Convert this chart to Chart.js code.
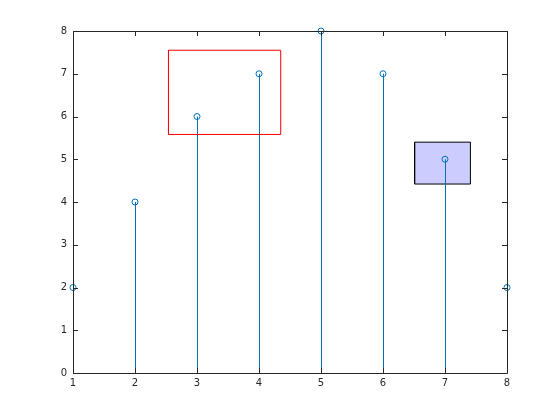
<!DOCTYPE html>
<html>
<head>
<meta charset="UTF-8">
<script src="https://cdn.jsdelivr.net/npm/chart.js"></script>
<style>
  body { margin: 0; background: #fff; }
  #wrap { width: 560px; height: 420px; }
</style>
</head>
<body>
<div id="wrap"><canvas id="c"></canvas></div>
<script>
const xs = [1, 2, 3, 4, 5, 6, 7, 8];
const ys = [2, 4, 6, 7, 8, 7, 5, 2];
const xTicks = [1, 2, 3, 4, 5, 6, 7, 8];
const yTicks = [0, 1, 2, 3, 4, 5, 6, 7, 8];
// outline rectangle (red) and filled rectangle (blue), in data units
const redRectX = [2.54, 4.35, 4.35, 2.54, 2.54];
const redRectY = [5.58, 5.58, 7.55, 7.55, 5.58];
const blueRectX = [6.51, 7.41, 7.41, 6.51, 6.51];
const blueRectY = [4.42, 4.42, 5.40, 5.40, 4.42];

const stemColor = '#0072BD';
const axisColor = '#262626';

const stems = xs.map((x, i) => ({
  type: 'line',
  data: [{x: x, y: 0}, {x: x, y: ys[i]}],
  borderColor: stemColor,
  borderWidth: 1,
  pointRadius: 0,
  fill: false,
  stem: true,
  order: 2
}));

const datasets = [
  {
    type: 'line',
    data: blueRectX.map((x, i) => ({x: x, y: blueRectY[i]})),
    borderColor: '#000',
    borderWidth: 1,
    backgroundColor: '#CCCCFF',
    fill: 'shape',
    pointRadius: 0,
    order: 3
  },
  {
    type: 'line',
    data: redRectX.map((x, i) => ({x: x, y: redRectY[i]})),
    borderColor: '#FF0000',
    borderWidth: 1,
    fill: false,
    pointRadius: 0,
    order: 1
  },
  ...stems,
  {
    type: 'scatter',
    data: xs.map((x, i) => ({x: x, y: ys[i]})),
    borderColor: stemColor,
    backgroundColor: 'rgba(0,0,0,0)',
    borderWidth: 1,
    pointRadius: 3,
    pointStyle: 'circle',
    clip: false,
    order: 0
  }
];

// shift vertical stems half a pixel so they stay crisp
const crispPlugin = {
  id: 'crisp',
  beforeDatasetDraw(chart, args) {
    if (chart.data.datasets[args.index].stem) {
      chart.ctx.save();
      chart.ctx.translate(0.5, 0);
    }
  },
  afterDatasetDraw(chart, args) {
    if (chart.data.datasets[args.index].stem) chart.ctx.restore();
  }
};

// box around the plot with inward ticks on all four sides
const boxPlugin = {
  id: 'box',
  afterDatasetsDraw(chart) {
    const ctx = chart.ctx;
    const a = chart.chartArea;
    const sx = chart.scales.x, sy = chart.scales.y;
    ctx.save();
    ctx.strokeStyle = axisColor;
    ctx.lineWidth = 1;
    ctx.beginPath();
    ctx.rect(Math.round(a.left) + 0.5, Math.round(a.top) + 0.5,
             Math.round(a.right - a.left), Math.round(a.bottom - a.top));
    const len = 5;
    xTicks.forEach(v => {
      const px = Math.round(sx.getPixelForValue(v)) + 0.5;
      ctx.moveTo(px, a.bottom); ctx.lineTo(px, a.bottom - len);
      ctx.moveTo(px, a.top); ctx.lineTo(px, a.top + len);
    });
    yTicks.forEach(v => {
      const py = Math.round(sy.getPixelForValue(v)) + 0.5;
      ctx.moveTo(a.left, py); ctx.lineTo(a.left + len, py);
      ctx.moveTo(a.right, py); ctx.lineTo(a.right - len, py);
    });
    ctx.stroke();
    ctx.restore();
  }
};

new Chart(document.getElementById('c'), {
  type: 'scatter',
  data: { datasets: datasets },
  options: {
    responsive: true,
    maintainAspectRatio: false,
    animation: false,
    layout: { padding: { left: 0, top: 31, right: 53, bottom: 0 } },
    plugins: { legend: { display: false }, tooltip: { enabled: false } },
    scales: {
      x: {
        type: 'linear',
        min: 1, max: 8,
        afterBuildTicks: s => { s.ticks = xTicks.map(v => ({value: v})); },
        afterFit: s => { s.height = 47; },
        grid: { display: false, drawTicks: false },
        border: { display: false },
        ticks: {
          color: axisColor,
          font: { family: 'DejaVu Sans', size: 10 },
          padding: 4,
          maxRotation: 0
        }
      },
      y: {
        type: 'linear',
        min: 0, max: 8,
        afterBuildTicks: s => { s.ticks = yTicks.map(v => ({value: v})); },
        afterFit: s => { s.width = 73; },
        grid: { display: false, drawTicks: false },
        border: { display: false },
        ticks: {
          color: axisColor,
          font: { family: 'DejaVu Sans', size: 10 },
          padding: 6
        }
      }
    }
  },
  plugins: [crispPlugin, boxPlugin]
});
</script>
</body>
</html>
